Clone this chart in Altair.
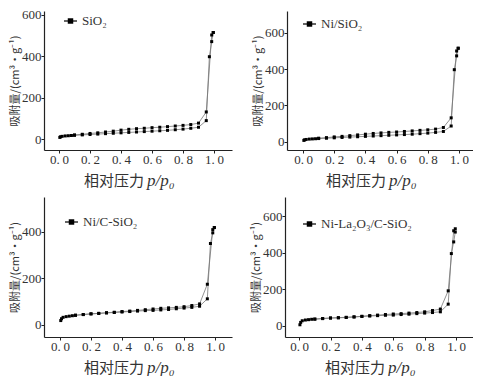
import altair as alt
import pandas as pd

# Shared relative-pressure grids
ads_x = [0.005, 0.01, 0.02, 0.04, 0.06, 0.08, 0.1, 0.15, 0.2, 0.25, 0.3, 0.35, 0.4, 0.45,
         0.5, 0.55, 0.6, 0.65, 0.7, 0.75, 0.8, 0.85, 0.9, 0.95, 0.97, 0.985, 0.995]
des_x = [0.995, 0.985, 0.95, 0.9, 0.85, 0.8, 0.75, 0.7, 0.65, 0.6, 0.55, 0.5, 0.45, 0.4,
         0.35, 0.3, 0.25, 0.2, 0.15, 0.1]

# Panel 1: SiO2
sio2_ads = [8, 11, 13, 15, 16, 17, 18, 20, 22, 24, 26, 28, 30, 32, 34, 36, 38, 40, 42, 45,
            48, 52, 57, 89, 398, 471, 515]
sio2_des = [515, 503, 131, 77, 70, 66, 63, 60, 57, 55, 52, 50, 47, 43, 38, 34, 30, 27, 23, 20]

# Panel 2: Ni/SiO2
nisio2_ads = [8, 11, 13, 15, 16, 17, 18, 20, 22, 24, 26, 28, 30, 32, 34, 36, 38, 40, 42, 45,
              48, 52, 57, 87, 397, 473, 515]
nisio2_des = [515, 500, 132, 79, 70, 66, 63, 60, 57, 54, 52, 49, 46, 42, 38, 34, 30, 27, 23, 20]

# Panel 3: Ni/C-SiO2
nic_ads = [17, 25, 31, 34, 36, 38, 40, 43, 46, 48, 50, 52, 54, 56, 58, 60, 61, 63, 65, 68,
           71, 74, 79, 111, 350, 396, 419]
nic_des = [419, 410, 174, 89, 82, 77, 74, 72, 70, 67, 64, 61, 58, 56, 53, 51, 48, 46, 43, 40]

# Panel 4: Ni-La2O3/C-SiO2
nila_ads = [5, 18, 27, 31, 33, 35, 36, 39, 42, 44, 46, 48, 51, 53, 55, 57, 58, 61, 63, 66,
            69, 72, 76, 118, 395, 459, 513]
nila_des = [531, 520, 191, 91, 83, 76, 72, 69, 66, 64, 61, 58, 55, 51, 48, 45, 43, 42, 39, 36]

names = ["SiO₂", "Ni/SiO₂", "Ni/C-SiO₂", "Ni-La₂O₃/C-SiO₂"]
y_domains = [[-53, 619], [-45, 720], [-54, 551], [-62, 705]]
y_ticks = [[0, 200, 400, 600], [0, 200, 400, 600], [0, 200, 400], [0, 200, 400, 600]]
x_domains = [[-0.097, 1.116], [-0.103, 1.09], [-0.103, 1.109], [-0.09, 1.108]]
x_ticks = [0.0, 0.2, 0.4, 0.6, 0.8, 1.0]

SERIF = "Liberation Serif"
CJK = "Noto Sans CJK SC"
INK = "#333333"


def panel(name, ads, des, ydom, yticks, xdom, w, h, lx, ly):
    df = pd.DataFrame({
        "p": ads_x + des_x,
        "v": ads + des,
        "branch": ["ads"] * len(ads_x) + ["des"] * len(des_x),
        "order": list(range(len(ads_x))) + list(range(len(des_x))),
    })
    x = alt.X("p:Q", scale=alt.Scale(domain=xdom, nice=False, zero=False),
              axis=alt.Axis(values=x_ticks, title=None, tickSize=3, labelPadding=0,
                            labelOverlap=False, labelFont=SERIF, labelFontSize=13,
                            labelExpr="replace(format(datum.value, '.1f'), '.', '.\u2009')"))
    y = alt.Y("v:Q", scale=alt.Scale(domain=ydom, nice=False, zero=False),
              axis=alt.Axis(values=yticks, title="吸附量/(cm³·g⁻¹)", tickSize=3,
                            labelPadding=0, titlePadding=1, titleFont=CJK,
                            labelOverlap=False, labelFont=SERIF, labelFontSize=13,
                            titleFontSize=11, titleFontWeight="normal"))
    base = alt.Chart(df).encode(x=x, y=y)
    line = base.mark_line(color="#777777", strokeWidth=0.8).encode(
        detail="branch:N", order="order:Q")
    pts = base.mark_square(color="black", size=9, opacity=1)

    lab = pd.DataFrame({"t": [name]})
    leg_line = alt.Chart(lab).mark_rule(color="black", strokeWidth=1.2).encode(
        x=alt.value(lx), x2=alt.value(lx + 13), y=alt.value(ly))
    leg_pt = alt.Chart(lab).mark_square(color="black", size=30, opacity=1).encode(
        x=alt.value(lx + 6.5), y=alt.value(ly))
    leg_txt = alt.Chart(lab).mark_text(align="left", baseline="middle", font=SERIF,
                                       fontSize=13, color=INK).encode(
        x=alt.value(lx + 18), y=alt.value(ly), text="t:N")
    split = w / 2 + 6
    t1 = alt.Chart(lab).mark_text(align="right", baseline="middle", font=CJK,
                                  fontSize=15, color=INK).encode(
        x=alt.value(split), y=alt.value(h + 31), text=alt.value("相对压力"))
    t2 = alt.Chart(lab).mark_text(align="left", baseline="middle", font=SERIF,
                                  fontSize=17, fontStyle="italic", color=INK).encode(
        x=alt.value(split + 3), y=alt.value(h + 31), text=alt.value("p/p₀"))
    return alt.layer(line, pts, leg_line, leg_pt, leg_txt, t1, t2).properties(
        width=w, height=h)


p1 = panel(names[0], sio2_ads, sio2_des, y_domains[0], y_ticks[0], x_domains[0], 188, 139, 20, 10)
p2 = panel(names[1], nisio2_ads, nisio2_des, y_domains[1], y_ticks[1], x_domains[1], 186, 139, 16, 13)
p3 = panel(names[2], nic_ads, nic_des, y_domains[2], y_ticks[2], x_domains[2], 188, 140, 21, 25)
p4 = panel(names[3], nila_ads, nila_des, y_domains[3], y_ticks[3], x_domains[3], 188, 140, 18, 27)

chart = alt.vconcat(
    alt.hconcat(p1, p2, spacing=20),
    alt.hconcat(p3, p4, spacing=18),
    spacing=8,
).properties(
    padding={"left": 1, "top": 0, "right": 0, "bottom": 0}, background="white"
).configure_view(
    stroke=None
).configure_axis(
    grid=False, domainColor="#222222", tickColor="#222222", labelColor=INK,
    labelFont=SERIF, labelFontSize=13, titleColor=INK, domainWidth=1.2
)

chart.save("out.html", embed_options={"renderer": "svg", "actions": False})
